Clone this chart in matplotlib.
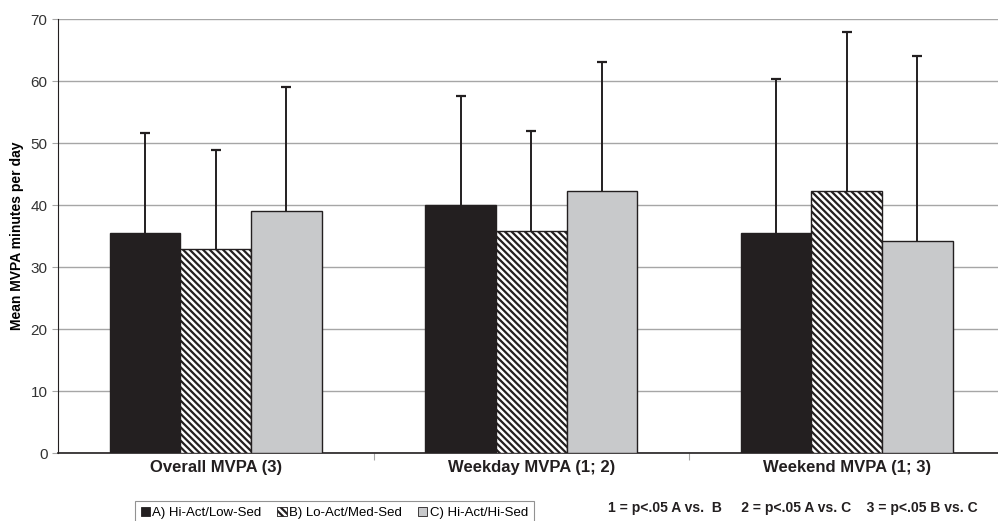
import matplotlib.pyplot as plt
import matplotlib.patches as mpatches
import numpy as np

plt.rcParams['font.family'] = ['Liberation Sans', 'DejaVu Sans']
plt.rcParams['hatch.linewidth'] = 1.6

categories = ['Overall MVPA (3)', 'Weekday MVPA (1; 2)', 'Weekend MVPA (1; 3)']
groups = ['A) Hi-Act/Low-Sed', 'B) Lo-Act/Med-Sed', 'C) Hi-Act/Hi-Sed']
means = {
    'A': [35.6, 40.0, 35.6],
    'B': [32.9, 35.8, 42.3],
    'C': [39.0, 42.3, 34.2],
}
sd = {
    'A': [16.1, 17.6, 24.7],
    'B': [16.0, 16.1, 25.6],
    'C': [20.0, 20.8, 29.9],
}

dark = '#231f20'
fig = plt.figure(figsize=(9.98, 5.21), dpi=100)
ax = fig.add_axes([58 / 998, 1 - 453.3 / 521, 946.5 / 998, (453.3 - 19.2) / 521])

x = np.arange(len(categories))
w = 0.224
styles = [
    dict(facecolor=dark, edgecolor=dark),
    dict(facecolor='white', edgecolor=dark, hatch='\\' * 5),
    dict(facecolor='#c8c9cb', edgecolor=dark),
]
for i, key in enumerate(['A', 'B', 'C']):
    pos = x + (i - 1) * w
    m = np.array(means[key])
    top = m + np.array(sd[key])
    ax.bar(pos, m, w, linewidth=1.0, zorder=3, **styles[i])
    ax.vlines(pos, m, top, color=dark, linewidth=1.4, zorder=4)
    ax.plot(pos, top, ls='none', marker='_', markersize=7, mew=1.6, color=dark, zorder=4)

ax.set_xlim(-0.5, 2.5)
ax.set_ylim(0, 70)
ax.set_yticks(range(0, 71, 10))
ax.yaxis.grid(True, color='#a6a6a6', linewidth=1.0, zorder=0)
ax.set_axisbelow(True)
for s in ['top', 'right']:
    ax.spines[s].set_visible(False)
ax.spines['left'].set_color(dark)
ax.spines['bottom'].set_color(dark)
ax.spines['bottom'].set_linewidth(1.2)
ax.set_xticks([0.5, 1.5], minor=False)
ax.set_xticklabels([])
ax.tick_params(axis='x', length=5, color='#a6a6a6')
ax.set_xticks(x, minor=True)
ax.set_xticklabels(categories, minor=True, fontsize=12, fontweight='bold', color=dark)
ax.tick_params(axis='x', which='minor', length=0, pad=5)
ax.tick_params(axis='y', length=4, labelsize=11, labelcolor='#333333', color='#a6a6a6')
ax.set_ylabel('Mean MVPA minutes per day', fontsize=10, fontweight='bold', labelpad=5)

handles = [mpatches.Patch(**styles[i], linewidth=0.6) for i in range(3)]
leg = fig.legend(handles, groups, loc='lower left', bbox_to_anchor=(128 / 998, -0.02),
                 ncol=3, fontsize=9.5, frameon=True, fancybox=False,
                 handlelength=0.7, handleheight=0.7, handletextpad=0.2,
                 columnspacing=1.2, borderpad=0.45)
leg.get_frame().set_edgecolor('#777777')
leg.get_frame().set_linewidth(0.8)

fig.text(978 / 998, 1 - 508 / 521, '1 = p<.05 A vs.  B     2 = p<.05 A vs. C    3 = p<.05 B vs. C',
         ha='right', va='center', fontsize=10, fontweight='bold', color=dark)

fig.savefig('out.png', dpi=100)
